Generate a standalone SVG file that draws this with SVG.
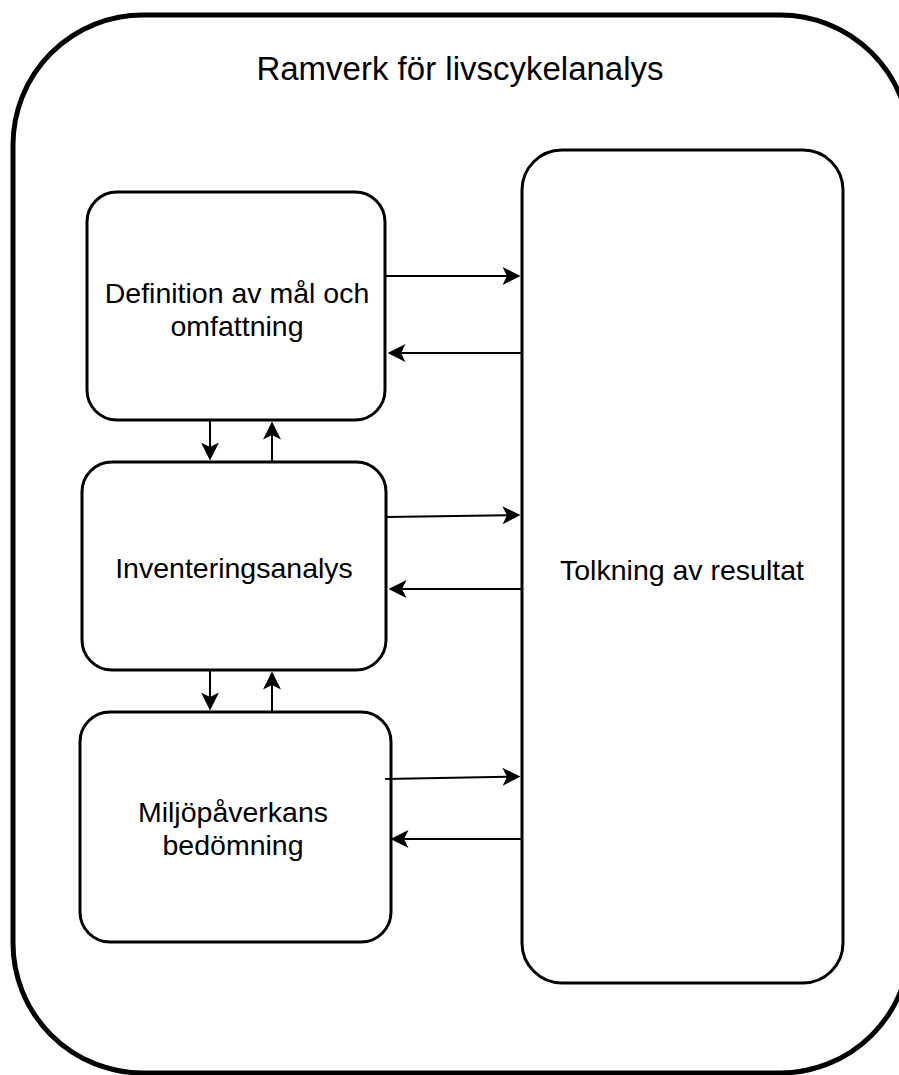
<svg xmlns="http://www.w3.org/2000/svg" width="899" height="1075" viewBox="0 0 899 1075">
  <style>
    .frame { fill: #ffffff; stroke: #000000; stroke-width: 5; }
    .box { fill: #ffffff; stroke: #000000; stroke-width: 3; }
    .edge { fill: none; stroke: #000000; stroke-width: 2; marker-end: url(#head); }
    .label { font-family: "Liberation Sans", Arial, sans-serif; font-size: 28.5px; fill: #000000; text-anchor: middle; }
    .title { font-family: "Liberation Sans", Arial, sans-serif; font-size: 33px; fill: #000000; text-anchor: middle; }
  </style>
  <defs>
    <marker id="head" viewBox="0 0 18 18" refX="4.5" refY="9" markerWidth="18" markerHeight="18" markerUnits="userSpaceOnUse" orient="auto">
      <path d="M0,0 L18,9 L0,18 L4.5,9 Z" fill="#000000"/>
    </marker>
  </defs>

  <rect width="899" height="1075" fill="#ffffff"/>

  <!-- outer framework container -->
  <g id="framework">
    <rect class="frame" x="13" y="15" width="897" height="1058" rx="130" ry="130"/>
    <text class="title" x="460" y="80">Ramverk för livscykelanalys</text>
  </g>

  <g id="goal-scope">
    <rect class="box" x="87" y="192" width="298" height="228" rx="30" ry="30"/>
    <text class="label" x="237" y="303">Definition av mål och</text>
    <text class="label" x="237" y="336">omfattning</text>
  </g>

  <g id="inventory">
    <rect class="box" x="82" y="462" width="304" height="208" rx="30" ry="30"/>
    <text class="label" x="234" y="578">Inventeringsanalys</text>
  </g>

  <g id="impact">
    <rect class="box" x="80" y="712" width="311" height="230" rx="30" ry="30"/>
    <text class="label" x="233" y="822">Miljöpåverkans</text>
    <text class="label" x="233" y="855">bedömning</text>
  </g>

  <g id="interpretation">
    <rect class="box" x="522" y="150" width="321" height="833" rx="40" ry="40"/>
    <text class="label" x="682" y="580">Tolkning av resultat</text>
  </g>

  <g id="connectors">
    <line class="edge" x1="386" y1="276" x2="507" y2="276"/>
    <line class="edge" x1="521" y1="353" x2="401" y2="353"/>
    <line class="edge" x1="387" y1="517" x2="507" y2="515.2"/>
    <line class="edge" x1="521" y1="589" x2="402" y2="589"/>
    <line class="edge" x1="385" y1="779" x2="507" y2="776.7"/>
    <line class="edge" x1="521" y1="839" x2="404" y2="839"/>
    <line class="edge" x1="210" y1="421" x2="210" y2="447"/>
    <line class="edge" x1="272" y1="461" x2="272" y2="435"/>
    <line class="edge" x1="210" y1="671" x2="210" y2="697"/>
    <line class="edge" x1="272" y1="711" x2="272" y2="685"/>
  </g>
</svg>
